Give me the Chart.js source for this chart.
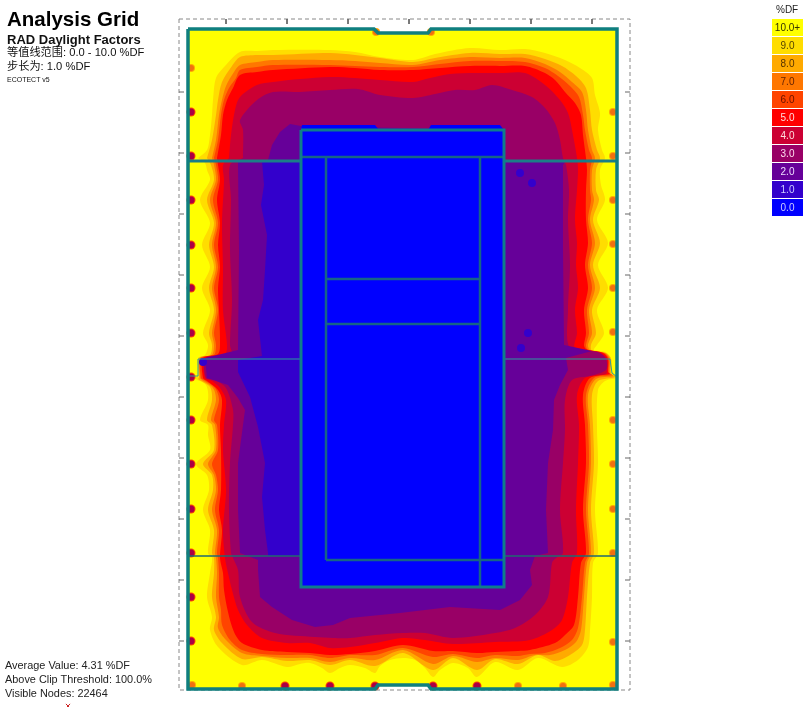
<!DOCTYPE html>
<html>
<head>
<meta charset="utf-8">
<title>Analysis Grid</title>
<script src="https://cdn.jsdelivr.net/npm/chart.js@4"></script>
<style>
  html, body { margin: 0; padding: 0; background: #fff; overflow: hidden; }
  body { width: 808px; height: 707px; position: relative; font-family: "Liberation Sans", Arial, sans-serif; color: #111; }
  #grid { position: absolute; left: 0; top: 0; }
  .t { position: absolute; white-space: nowrap; line-height: 1; }
  .cell { position: absolute; left: 772px; width: 31px; height: 17px; font-size: 10px; line-height: 17px; text-align: center; }
</style>
</head>
<body>
<canvas id="grid" width="808" height="707"></canvas>
<div class="t" style="left:7px;top:9px;font-size:20.5px;font-weight:bold;color:#000">Analysis Grid</div>
<div class="t" style="left:7px;top:33px;font-size:13px;font-weight:bold">RAD Daylight Factors</div>
<div class="t" style="left:7px;top:47px;font-size:11.2px;font-family:'Liberation Sans','Noto Sans CJK SC',sans-serif">等值线范围: 0.0 - 10.0 %DF</div>
<div class="t" style="left:7px;top:61px;font-size:11.2px;font-family:'Liberation Sans','Noto Sans CJK SC',sans-serif">步长为: 1.0 %DF</div>
<div class="t" style="left:7px;top:76px;font-size:7px">ECOTECT v5</div>
<div class="t" style="left:5px;top:660px;font-size:10.9px;color:#222">Average Value: 4.31 %DF</div>
<div class="t" style="left:5px;top:674px;font-size:10.9px;color:#222">Above Clip Threshold: 100.0%</div>
<div class="t" style="left:5px;top:688px;font-size:10.9px;color:#222">Visible Nodes: 22464</div>
<div class="t" style="left:776px;top:5px;font-size:10px;color:#222">%DF</div>
<div id="legend"></div>
<script>
// Legend
const legendLabels = ['10.0+', '9.0', '8.0', '7.0', '6.0', '5.0', '4.0', '3.0', '2.0', '1.0', '0.0'];
const legendColors = ['#FFFF00', '#FFDD00', '#FFAA00', '#FF7700', '#FF4400', '#FF0000', '#CC0033', '#990066', '#660099', '#3300CC', '#0000FF'];
const legendText = ['#333300', '#554400', '#553300', '#662200', '#661100', '#ffdddd', '#ffdddd', '#ffddee', '#eeddff', '#ccccff', '#ccccff'];

// Contour outlines, one closed ring per level
const contour10 = [[188,29],[374,29],[378,33],[428,33],[431,29],[617,29],[617,689],[431,689],[428,685],[378,685],[375,689],[188,689]];
const contour9 = [[198,158],[207,150],[210,135],[212,115],[213,100],[216,78],[225,66],[240,52],[257,51],[273,50],[330,50],[355,52],[380,57],[413,60],[435,54],[470,48],[500,50],[525,49],[545,53],[565,60],[580,68],[592,78],[595,95],[600,113],[598,130],[602,150],[605,158],[600,170],[601,185],[605,200],[597,220],[608,243],[598,265],[608,288],[597,310],[604,333],[597,345],[594,350],[605,352],[611,358],[612,372],[616,376],[616,378],[605,381],[598,390],[597,427],[598,463],[595,510],[598,553],[593,563],[592,597],[590,630],[588,647],[578,660],[562,667],[538,658],[518,670],[495,662],[477,677],[468,668],[453,663],[440,670],[433,677],[425,668],[415,660],[403,658],[390,660],[380,666],[375,673],[365,668],[350,665],[340,668],[330,673],[322,668],[310,663],[300,664],[287,667],[262,660],[242,665],[218,647],[210,630],[212,617],[207,597],[210,573],[212,558],[208,553],[210,530],[203,510],[209,490],[207,475],[196,464],[210,450],[208,435],[208,425],[200,420],[208,400],[206,385],[195,379],[190,378],[198,376],[198,358],[205,355],[208,345],[203,333],[210,310],[202,288],[210,267],[202,245],[210,223],[200,200],[210,180],[207,170],[205,163]];
const contour8 = [[207,158],[212,140],[216,115],[218,100],[222,82],[232,66],[240,57],[257,55],[273,55],[330,53],[355,55],[380,58],[413,62],[435,58],[470,53],[500,54],[525,54],[545,59],[562,66],[576,76],[586,88],[590,110],[592,130],[597,150],[600,158],[596,170],[596,190],[599,200],[593,220],[600,243],[593,265],[600,288],[592,310],[596,333],[591,345],[592,351],[606,353],[611,359],[611,373],[615,377],[598,381],[592,395],[593,425],[594,463],[591,510],[594,553],[590,563],[587,597],[585,630],[582,645],[570,655],[555,661],[538,655],[518,664],[495,659],[477,670],[453,658],[433,670],[403,653],[375,666],[350,660],[330,665],[310,660],[287,661],[262,657],[242,659],[222,643],[214,630],[216,617],[212,597],[214,573],[214,558],[212,553],[214,530],[208,510],[213,490],[212,475],[203,464],[214,450],[212,425],[207,420],[212,400],[210,387],[198,379],[199,378],[199,358],[210,355],[212,345],[209,333],[214,310],[209,288],[214,267],[209,245],[214,223],[207,200],[214,180],[211,165]];
const contour7 = [[212,158],[216,140],[219,115],[222,100],[226,86],[234,72],[240,65],[257,62],[273,60],[330,60],[355,61],[380,63],[413,65],[440,60],[470,57],[500,58],[525,58],[545,64],[560,72],[572,82],[582,92],[586,110],[588,130],[592,150],[595,158],[592,170],[592,190],[594,200],[590,220],[595,243],[590,265],[595,288],[589,310],[592,333],[588,345],[590,350],[605,353],[610,359],[610,373],[613,376],[596,379],[588,395],[590,425],[591,463],[588,510],[591,553],[587,563],[584,597],[581,630],[576,642],[565,650],[550,655],[535,655],[518,660],[495,658],[477,662],[453,656],[433,664],[403,650],[375,660],[350,658],[330,662],[310,658],[287,658],[262,656],[242,653],[226,640],[218,628],[219,617],[216,597],[217,573],[216,558],[215,553],[217,530],[212,510],[216,490],[214,475],[208,464],[216,450],[215,425],[211,420],[216,400],[213,388],[202,380],[200,378],[200,358],[212,355],[214,345],[212,333],[216,310],[212,288],[216,267],[212,245],[216,223],[210,200],[216,180],[214,165]];
const contour6 = [[214,158],[218,140],[221,115],[224,100],[229,88],[236,78],[240,70],[257,67],[273,65],[330,65],[355,66],[380,67],[413,67],[440,64],[470,61],[500,61],[525,62],[545,68],[558,76],[570,86],[579,97],[583,115],[585,130],[589,150],[592,158],[590,170],[590,190],[591,200],[588,220],[592,243],[588,265],[592,288],[587,310],[589,333],[586,345],[588,350],[604,353],[609,359],[609,373],[612,375],[594,378],[586,395],[588,425],[589,463],[586,510],[589,553],[585,563],[582,597],[578,628],[572,640],[560,648],[545,653],[530,654],[518,656],[495,655],[477,658],[453,654],[433,657],[403,648],[375,655],[350,655],[330,658],[310,655],[287,655],[262,654],[242,650],[230,640],[222,625],[221,610],[219,597],[219,573],[218,558],[217,553],[219,530],[215,510],[218,490],[216,475],[212,464],[218,450],[217,425],[214,420],[219,400],[215,388],[204,380],[201,378],[201,358],[214,355],[216,345],[214,333],[218,310],[214,288],[218,267],[214,245],[218,223],[213,200],[218,180],[216,165]];
const contour5 = [[217,158],[221,135],[223,115],[227,100],[233,88],[240,75],[257,72],[273,70],[330,67],[355,68],[380,70],[413,70],[440,68],[470,66],[500,66],[525,66],[545,73],[555,80],[565,92],[575,103],[581,115],[583,135],[586,158],[587,170],[586,190],[586,220],[588,243],[585,265],[588,288],[584,310],[586,333],[584,345],[586,349],[603,353],[608,359],[608,372],[610,374],[590,378],[583,395],[585,425],[586,463],[583,510],[586,553],[581,563],[578,597],[574,625],[565,635],[555,643],[530,650],[518,651],[495,652],[477,653],[453,651],[433,651],[403,645],[375,651],[350,654],[330,655],[310,653],[287,652],[262,650],[242,643],[234,632],[228,612],[224,590],[223,573],[220,558],[222,530],[219,510],[221,490],[221,450],[220,425],[222,400],[218,390],[207,381],[203,378],[203,358],[218,354],[220,345],[219,310],[218,288],[220,267],[218,245],[220,223],[217,200],[220,180],[218,165]];
const contour4 = [[229,158],[231,135],[235,110],[240,97],[257,85],[273,82],[300,79],[330,77],[355,78],[380,80],[413,82],[430,78],[450,74],[475,73],[500,73],[525,73],[545,85],[560,100],[568,113],[572,130],[577,158],[578,170],[577,190],[575,220],[577,243],[576,265],[578,288],[575,310],[577,333],[575,348],[600,353],[607,359],[607,371],[606,374],[585,378],[577,395],[579,425],[578,463],[576,510],[577,553],[572,563],[568,597],[562,620],[552,630],[530,640],[495,642],[453,644],[425,640],[403,638],[375,643],[350,647],[330,648],[310,643],[287,643],[262,638],[247,625],[238,610],[232,590],[228,573],[225,558],[223,530],[226,490],[223,450],[224,425],[226,400],[220,388],[212,381],[205,378],[205,358],[225,354],[227,345],[223,310],[223,267],[222,223],[224,180],[223,165]];
const contour3 = [[243,158],[243,130],[240,120],[257,100],[273,92],[300,92],[330,90],[358,89],[380,95],[413,98],[435,94],[455,90],[475,90],[492,85],[512,90],[532,97],[545,108],[555,123],[560,140],[563,158],[566,165],[569,190],[568,220],[570,265],[568,310],[570,348],[598,352],[606,359],[606,370],[590,376],[572,380],[565,400],[565,430],[563,463],[560,510],[563,553],[556,558],[552,563],[548,597],[535,615],[515,628],[495,633],[453,638],[425,633],[403,633],[375,635],[350,638],[333,638],[315,637],[275,633],[252,622],[240,597],[238,570],[233,558],[231,553],[229,510],[230,463],[233,425],[233,410],[226,388],[215,380],[206,378],[206,358],[232,356],[230,345],[232,300],[230,250],[231,200],[230,165]];
const contour2 = [[238,161],[268,160],[272,145],[280,132],[290,124],[301,126],[504,130],[504,161],[565,161],[563,165],[563,250],[564,345],[592,351],[566,358],[568,370],[560,385],[554,400],[553,430],[548,463],[546,510],[548,553],[535,556],[530,570],[532,585],[520,600],[500,610],[450,607],[400,613],[350,618],[333,625],[315,627],[292,620],[272,607],[260,597],[258,570],[258,560],[240,553],[238,510],[238,463],[243,425],[245,410],[238,398],[228,385],[207,378],[205,358],[238,350],[239,250],[238,165]];
const contour1 = [[262,161],[264,185],[261,205],[267,235],[265,270],[263,300],[258,320],[262,356],[238,360],[238,372],[250,397],[258,427],[265,463],[262,497],[265,530],[268,553],[268,556],[301,556],[301,161]];
const contour0 = [[301,130],[302,125],[375,125],[379,130],[428,130],[431,125],[500,125],[504,130],[504,587],[301,587]];

// Small low patches and the hot spots by the window bays
const lowPatches = [[520,173],[532,183],[528,333],[521,348],[203,362]];
const spotsDark = [[191,112],[191,156],[191,200],[191,245],[191,288],[191,333],[191,377],[191,420],[191,464],[191,509],[191,553],[191,597],[191,641],[285,686],[330,686],[375,686],[433,686],[477,686]];
const spotsOrange = [[191,68],[613,112],[613,156],[613,200],[613,244],[613,288],[613,332],[613,420],[613,464],[613,509],[613,553],[613,642],[613,685],[192,685],[242,686],[518,686],[563,686],[376,32],[431,32]];

// Building outline
const outerWall = contour10.concat([[188,29]]);
const mainRoom = [[301,130],[504,130],[504,587],[301,587],[301,130]];
const wallLeftTop = [[188,161],[301,161]];
const wallRightTop = [[504,161],[617,161]];
const innerLines = [
  [[301,157],[504,157]],
  [[326,157],[326,560]],
  [[480,157],[480,587]],
  [[326,279],[480,279]],
  [[326,324],[480,324]],
  [[326,560],[504,560]]
];
const thinLines = [
  [[189,376],[198,376],[198,359],[301,359]],
  [[504,359],[610,359],[612,373],[617,377]]
];
const lowWalls = [
  [[188,556],[301,556]],
  [[504,556],[617,556]]
];
const gridFrame = [[179,19],[630,19],[630,690],[179,690],[179,19]];
const ticksV = [92,153,214,275,336,397,458,519,580,641];
const ticksH = [226,287,348,409,470,531,592];
const marker = [[68,706]];

const toPts = a => a.map(p => ({ x: p[0], y: p[1] }));
const closed = a => toPts(a.concat([a[0]]));

// Levels painted from the outside in
const rings = [contour10, contour9, contour8, contour7, contour6, contour5, contour4, contour3, contour2, contour1, contour0];
const datasets = [];
let layer = 1000;

function line(points, color, width, dash) {
  datasets.push({
    data: points, showLine: true, pointRadius: 0, borderColor: color, borderWidth: width,
    borderDash: dash || [], fill: false, order: layer--
  });
}
function dots(points, color, radius) {
  datasets.push({
    data: toPts(points), showLine: false, pointRadius: radius, pointBackgroundColor: color,
    pointBorderWidth: 0, order: layer--
  });
}

rings.forEach((ring, i) => {
  datasets.push({
    data: closed(ring), showLine: true, pointRadius: 0, borderWidth: 0, borderColor: legendColors[i],
    backgroundColor: legendColors[i], fill: 'shape', tension: (i > 0 && i < 8) ? 0.3 : 0, order: layer--
  });
  if (i === 9) dots(lowPatches, legendColors[9], 4);
});

dots(spotsOrange, '#FFAA00', 4);
dots(spotsOrange, '#F07010', 3);
dots(spotsDark, '#FF4400', 4.5);
dots(spotsDark, '#AA0044', 3.5);

// Walls and frame
const tickPts = [];
ticksV.forEach(y => tickPts.push({ x: 179, y: y }, { x: 184, y: y }, { x: NaN, y: NaN }));
ticksV.forEach(y => tickPts.push({ x: 625, y: y }, { x: 630, y: y }, { x: NaN, y: NaN }));
ticksH.forEach(x => tickPts.push({ x: x, y: 19 }, { x: x, y: 24 }, { x: NaN, y: NaN }));
line(toPts(gridFrame), '#888888', 1, [4, 3]);
line(tickPts, '#666666', 1);
thinLines.forEach(l => line(toPts(l), '#2d9c9c', 1));
lowWalls.forEach(l => line(toPts(l), '#206a70', 1.5));
innerLines.forEach(l => line(toPts(l), '#176486', 2.5));
line(toPts(wallLeftTop), '#1b7d88', 3);
line(toPts(wallRightTop), '#1b7d88', 3);
line(toPts(mainRoom), '#0e7d8c', 3);
line(toPts(outerWall), '#0f7f7f', 3.5);
datasets.push({
  data: toPts(marker), showLine: false, pointStyle: 'crossRot', pointRadius: 3,
  pointBorderColor: '#cc2222', pointBorderWidth: 1, order: layer--
});

new Chart(document.getElementById('grid').getContext('2d'), {
  type: 'scatter',
  data: { datasets: datasets },
  options: {
    responsive: false,
    animation: false,
    layout: { padding: 0, autoPadding: false },
    plugins: { legend: { display: false }, tooltip: { enabled: false }, title: { display: false } },
    scales: {
      x: { type: 'linear', min: 0, max: 808, display: false },
      y: { type: 'linear', min: 0, max: 707, reverse: true, display: false }
    }
  }
});

// Colour key on the right
const legendBox = document.getElementById('legend');
legendLabels.forEach((label, i) => {
  const cell = document.createElement('div');
  cell.className = 'cell';
  cell.style.top = (19 + i * 18) + 'px';
  cell.style.background = legendColors[i];
  cell.style.color = legendText[i];
  cell.textContent = label;
  legendBox.appendChild(cell);
});
</script>
</body>
</html>
